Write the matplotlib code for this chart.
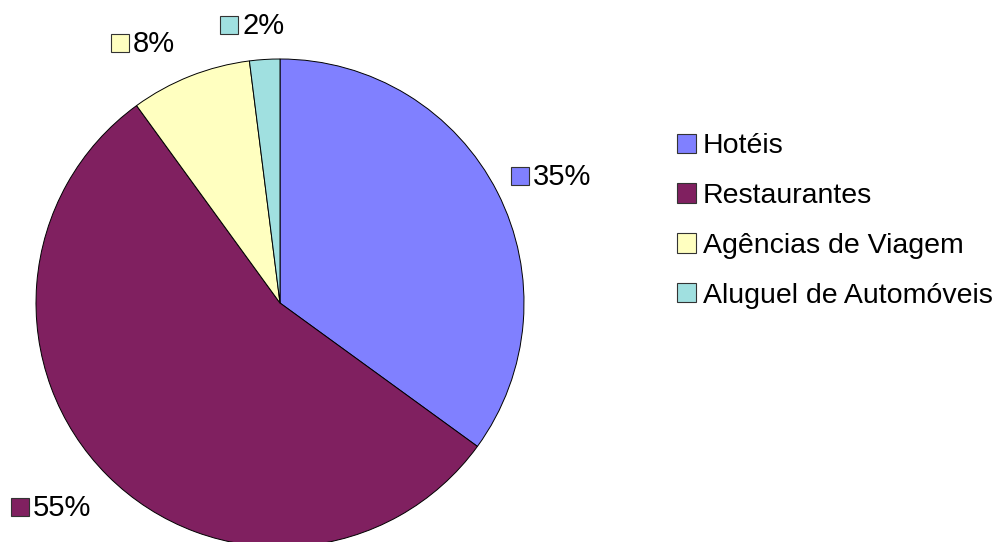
import matplotlib.pyplot as plt
from matplotlib.patches import Rectangle

plt.rcParams['font.family'] = ['Liberation Sans', 'DejaVu Sans']

categories = ["Hotéis", "Restaurantes", "Agências de Viagem", "Aluguel de Automóveis"]
shares = [35, 55, 8, 2]
pct_labels = ["35%", "55%", "8%", "2%"]
colors = ["#8080FF", "#802060", "#FFFFC0", "#A0E0E0"]

# label box positions in pixels (left edge of square, vertical centre)
label_pos = [(511, 176), (11, 507), (111, 43), (220, 25)]

W, H = 1007, 542
fig = plt.figure(figsize=(W / 100, H / 100), dpi=100)
ax = fig.add_axes([0, 0, 1, 1])

# pie drawn in pixel space; y axis inverted, so counterclock=True gives clockwise on screen
wedges, _ = ax.pie(
    shares,
    colors=colors,
    startangle=-90,
    counterclock=True,
    center=(280, 303),
    radius=244,
    frame=True,
    wedgeprops=dict(edgecolor="black", linewidth=0.7),
)
ax.set_xlim(0, W)
ax.set_ylim(H, 0)
ax.axis("off")

sq = 18
for (x, y), txt, c in zip(label_pos, pct_labels, colors):
    ax.add_patch(Rectangle((x, y - sq / 2), sq, sq, facecolor=c,
                           edgecolor="#333333", linewidth=0.8, clip_on=False))
    ax.text(x + sq + 4, y + 1, txt, fontsize=21, ha="left", va="center")

leg = ax.legend(
    wedges, categories,
    loc="center left",
    bbox_to_anchor=(677 / W, 1 - 221 / H),
    bbox_transform=fig.transFigure,
    frameon=False,
    fontsize=20.5,
    handlelength=0.66,
    handleheight=0.66,
    handletextpad=0.25,
    labelspacing=0.84,
    borderpad=0,
    borderaxespad=0,
)
for h in leg.legend_handles:
    h.set_edgecolor("#333333")
    h.set_linewidth(0.8)

fig.savefig("out.png", dpi=100)
